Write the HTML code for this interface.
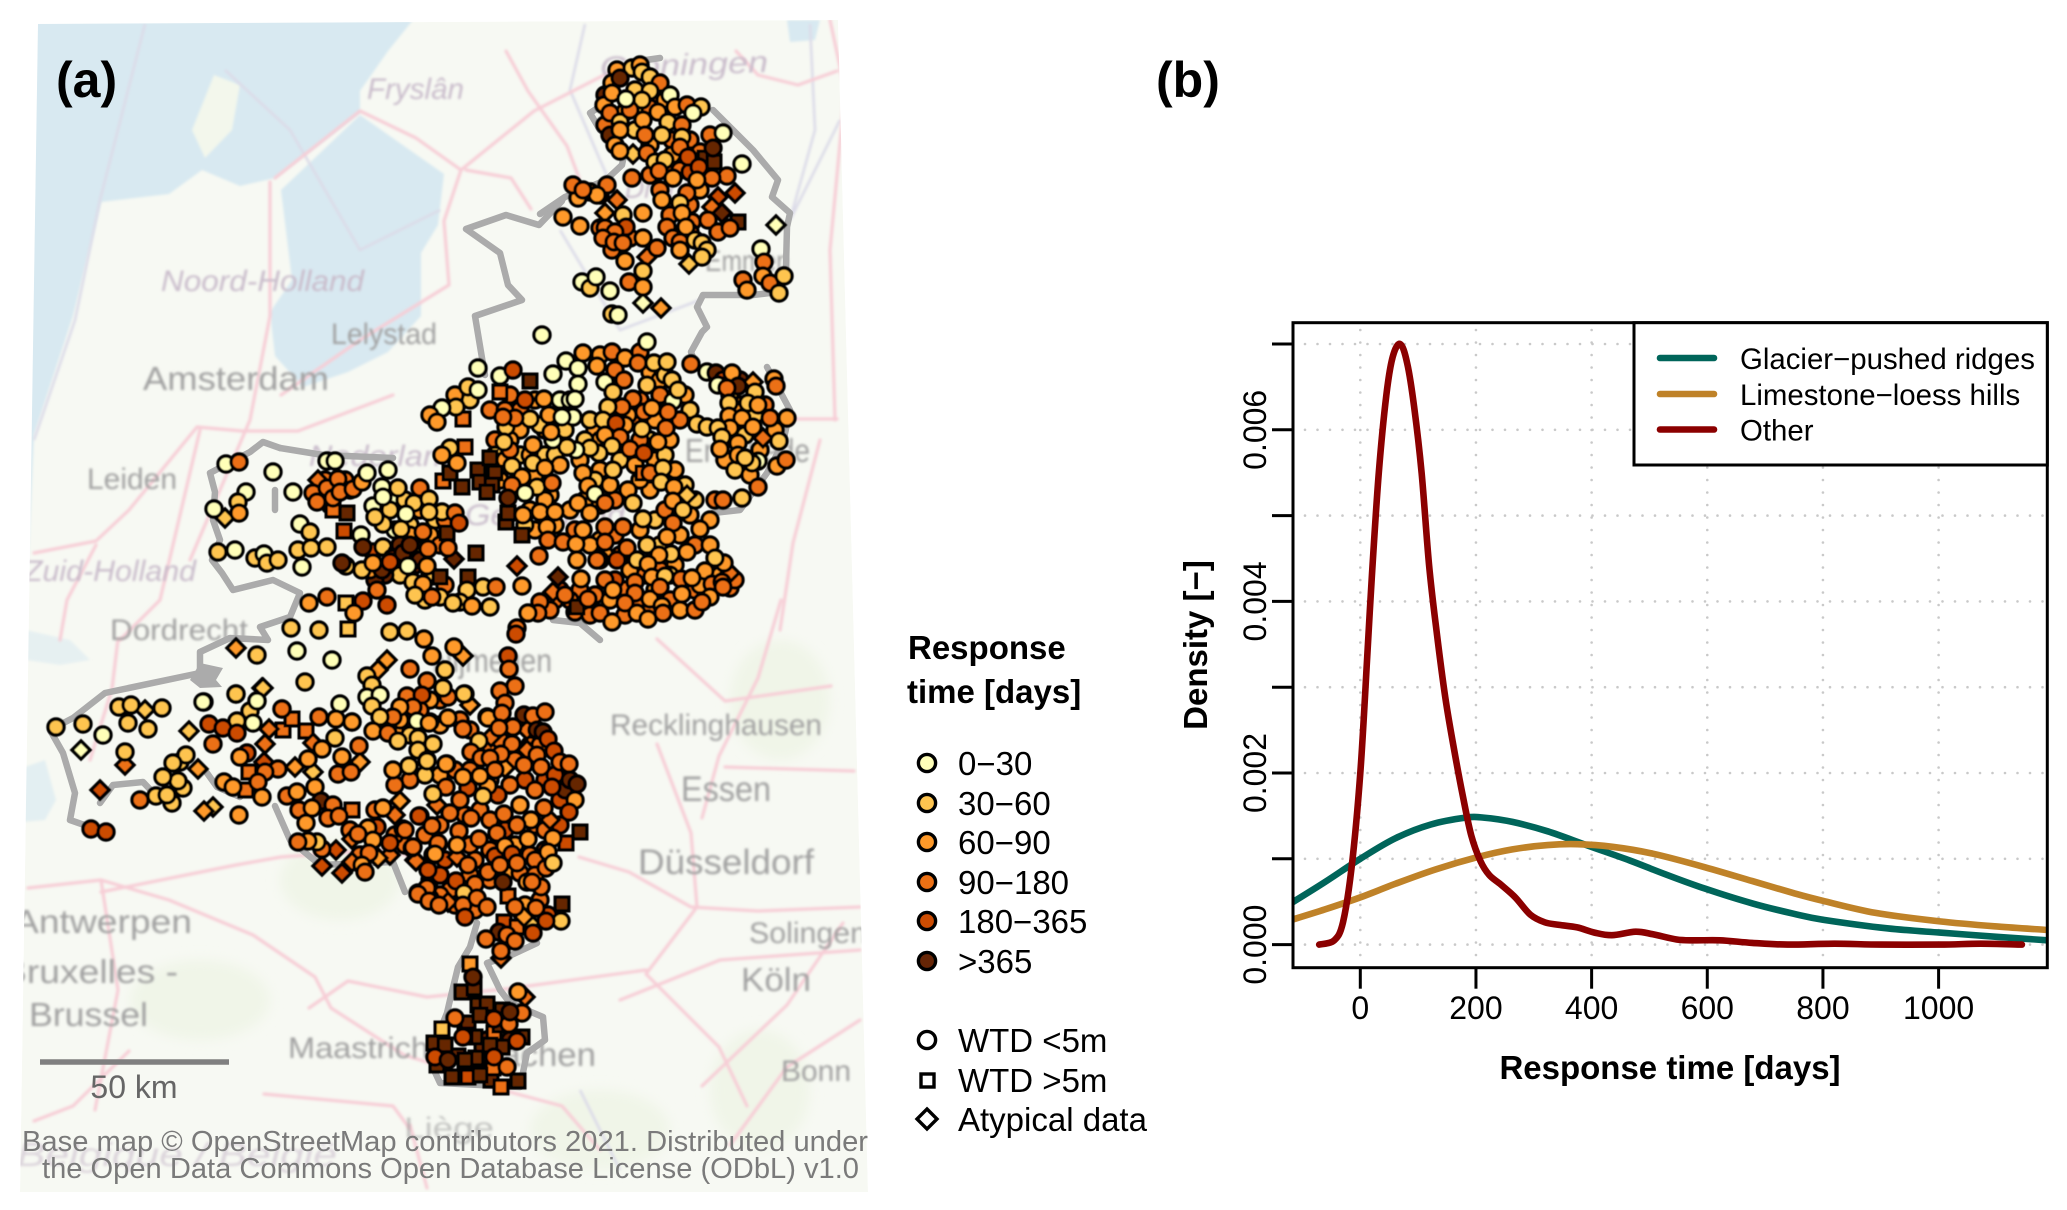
<!DOCTYPE html>
<html lang="en">
<head>
<meta charset="utf-8">
<title>Response time map and density plot</title>
<style>
html,body{margin:0;padding:0;background:#fff}
svg{display:block;font-family:"Liberation Sans",sans-serif}
.pl{fill:#c9bccb;font-style:italic}
.gl{fill:#a0a0a0}
.rd{fill:none;stroke:#f7cdd6;stroke-width:3.2;stroke-linejoin:round;stroke-linecap:round}
.bd{fill:none;stroke:#dcdbe8;stroke-width:2.6}
.tk{font-size:32px;fill:#000}
.lg{font-size:29.4px;fill:#000}
.ml{font-size:33px;fill:#000}
</style>
</head>
<body>
<svg id="fig" xmlns="http://www.w3.org/2000/svg" width="2067" height="1210" viewBox="0 0 2067 1210">
<defs>
<filter id="soft" x="-5%" y="-5%" width="110%" height="110%"><feGaussianBlur stdDeviation="1.2"/></filter>
<filter id="softer" x="-5%" y="-5%" width="110%" height="110%"><feGaussianBlur stdDeviation="0.45"/></filter>
<filter id="wide" x="-20%" y="-20%" width="140%" height="140%"><feGaussianBlur stdDeviation="6"/></filter>
<clipPath id="mapclip"><polygon points="38,24 838,20 868,1192 20,1192"/></clipPath>
</defs>
<rect width="2067" height="1210" fill="#fff"/>

<g clip-path="url(#mapclip)">
<polygon points="38,24 838,20 868,1192 20,1192" fill="#f7f9f3"/>
<g filter="url(#wide)" fill="#f0f5e8">
<ellipse cx="340" cy="880" rx="60" ry="40"/><ellipse cx="600" cy="1130" rx="70" ry="40"/><ellipse cx="760" cy="1090" rx="50" ry="60"/><ellipse cx="200" cy="1000" rx="70" ry="40"/><ellipse cx="780" cy="700" rx="50" ry="60"/>
</g>
<g fill="#d8e9f1" filter="url(#soft)">
<polygon points="30,20 413,20 388,51 360,91 360,113 275,178 240,186 202,170 169,194 101,202 73,316 34,435 28,570 30,300"/>
<polygon points="281,190 360,115 444,174 438,225 421,253 421,316 388,352 348,372 303,387 275,356 270,312 292,280"/>
<polygon points="787,20 820,20 815,40 790,42"/>
<polygon points="26,630 70,640 90,660 60,665 26,660" fill-opacity="0.55"/>
<polygon points="22,768 45,760 56,800 45,820 22,822" fill-opacity="0.65"/>
</g>
<polygon points="214,75 240,85 232,130 205,158 192,130" fill="#f3f7ec" filter="url(#soft)"/>
<g filter="url(#soft)">
<polyline class="bd" points="145,24 100,200 75,320 34,440"/>
<polyline class="bd" points="225,70 290,130 360,250 440,210"/>
<polyline class="bd" points="585,24 570,90 600,160 640,250"/>
<polyline class="bd" points="810,24 815,130 790,220 840,120"/>
<polyline class="bd" points="560,230 620,330 700,300"/>
<polyline class="bd" points="580,1090 620,1170"/>
</g>
<g filter="url(#soft)">
<polyline class="rd" points="275,178 360,111 416,138 461,170 534,111 612,71"/>
<polyline class="rd" points="270,182 270,316 250,420 190,560"/>
<polyline class="rd" points="461,170 444,221 449,285 360,340 281,395"/>
<polyline class="rd" points="506,51 528,91 567,146 579,178"/>
<polyline class="rd" points="466,170 511,178 531,209"/>
<polyline class="rd" points="837,71 798,85 758,75 736,51"/>
<polyline class="rd" points="837,419 730,419"/>
<polyline class="rd" points="820,440 793,543 780,630"/>
<polyline class="rd" points="34,553 96,541 129,510 197,427 242,431 298,431 393,395"/>
<polyline class="rd" points="96,545 67,600 60,640"/>
<polyline class="rd" points="28,888 101,880 169,900 253,935 315,977 331,1008 404,1055 505,1086"/>
<polyline class="rd" points="118,639 112,689 90,760"/>
<polyline class="rd" points="101,892 236,865 281,857 393,849 472,888"/>
<polyline class="rd" points="579,857 629,872 691,907 758,911 860,907"/>
<polyline class="rd" points="657,744 691,833 697,907 646,974 719,1047 747,1106"/>
<polyline class="rd" points="702,1086 787,1005 843,923"/>
<polyline class="rd" points="309,1008 348,981 427,997 506,989 646,970"/>
<polyline class="rd" points="461,1079 562,1106 600,1150"/>
<polyline class="rd" points="781,600 758,678 719,756 702,818"/>
<polyline class="rd" points="657,639 725,701 831,686"/>
<polyline class="rd" points="725,767 854,771"/>
<polyline class="rd" points="410,1125 427,1188"/>
<polyline class="rd" points="264,1094 393,1106 410,1129"/>
<polyline class="rd" points="34,1121 73,1106 129,1051"/>
<polyline class="rd" points="730,1145 787,1067 860,1020"/>
<polyline class="rd" points="101,880 118,990 95,1110"/>
<polyline class="rd" points="830,20 845,90 830,250 835,420"/>
<polyline class="rd" points="200,430 160,600 120,640"/>
<polyline class="rd" points="620,1000 720,960 860,950"/>
</g>
<g filter="url(#soft)" font-size="30">
<text class="pl" x="600" y="75" textLength="168" lengthAdjust="spacingAndGlyphs" transform="rotate(-2 680 64)">Groningen</text>
<text class="pl" x="367" y="99" textLength="97" lengthAdjust="spacingAndGlyphs">Fryslân</text>
<text class="pl" x="161" y="291" textLength="203" lengthAdjust="spacingAndGlyphs">Noord-Holland</text>
<text class="gl" x="331" y="344" textLength="106" lengthAdjust="spacingAndGlyphs">Lelystad</text>
<text class="gl" x="143" y="390" textLength="186" lengthAdjust="spacingAndGlyphs" font-size="33">Amsterdam</text>
<text class="gl" x="87" y="489" textLength="90" lengthAdjust="spacingAndGlyphs">Leiden</text>
<text class="pl" x="24" y="581" textLength="172" lengthAdjust="spacingAndGlyphs">Zuid-Holland</text>
<text class="gl" x="110" y="640" textLength="138" lengthAdjust="spacingAndGlyphs">Dordrecht</text>
<text class="gl" x="610" y="735" textLength="212" lengthAdjust="spacingAndGlyphs">Recklinghausen</text>
<text class="gl" x="681" y="801" textLength="90" lengthAdjust="spacingAndGlyphs" font-size="35">Essen</text>
<text class="gl" x="638" y="874" textLength="176" lengthAdjust="spacingAndGlyphs" font-size="35">Düsseldorf</text>
<text class="gl" x="749" y="943" textLength="118" lengthAdjust="spacingAndGlyphs">Solingen</text>
<text class="gl" x="741" y="991" textLength="70" lengthAdjust="spacingAndGlyphs" font-size="33">Köln</text>
<text class="gl" x="781" y="1081" textLength="70" lengthAdjust="spacingAndGlyphs">Bonn</text>
<text class="gl" x="14" y="933" textLength="178" lengthAdjust="spacingAndGlyphs" font-size="33">Antwerpen</text>
<text class="gl" x="2" y="983" textLength="176" lengthAdjust="spacingAndGlyphs" font-size="33">Bruxelles -</text>
<text class="gl" x="29" y="1026" textLength="119" lengthAdjust="spacingAndGlyphs" font-size="33">Brussel</text>
<text class="gl" x="288" y="1058" textLength="150" lengthAdjust="spacingAndGlyphs">Maastricht</text>
<text class="gl" x="478" y="1066" textLength="118" lengthAdjust="spacingAndGlyphs" font-size="33">Aachen</text>
<text class="gl" x="432" y="672" textLength="120" lengthAdjust="spacingAndGlyphs" font-size="33">Nijmegen</text>
<text class="gl" x="685" y="462" textLength="125" lengthAdjust="spacingAndGlyphs" font-size="33">Enschede</text>
<text class="gl" x="705" y="271" textLength="85" lengthAdjust="spacingAndGlyphs">Emmen</text>
<text class="pl" x="309" y="466" textLength="150" lengthAdjust="spacingAndGlyphs">Nederland</text>
<text class="pl" x="465" y="525" textLength="160" lengthAdjust="spacingAndGlyphs">Gelderland</text>
<text class="pl" x="625" y="198" textLength="95" lengthAdjust="spacingAndGlyphs">Drenthe</text>
<text class="gl" x="404" y="1138" textLength="90" lengthAdjust="spacingAndGlyphs" fill-opacity="0.6">Liège</text>
<text class="pl" x="17" y="1166" textLength="320" lengthAdjust="spacingAndGlyphs" font-size="33" fill-opacity="0.6">Belgique / België</text>
</g>
<g fill="none" stroke="#ababab" stroke-width="6.5" stroke-linejoin="round" stroke-linecap="round">
<polyline points="540,214 565,197 606,180 622,165 625,150 600,130 590,113 610,100 620,70 632,62 660,58"/>
<polyline points="713,110 753,150 778,180 772,197 790,213 787,227 786,267 770,293 753,295 703,295 697,307 707,327 702,332 691,352 697,368"/>
<polyline points="562,201 539,225 506,215 466,229 500,253 508,285 522,300 475,316 483,364 485,375"/>
<polyline points="280,448 263,442 250,452 210,473 215,492 213,520 220,540 212,560 222,573 233,590 273,580 300,593 290,617 260,627 268,640 230,638 200,652 200,673 105,693 73,718 50,730 63,753 75,793 70,820 90,827"/>
<polyline points="100,803 113,785 143,782 160,800"/>
<polyline points="207,773 217,787 240,797"/>
<polyline points="275,806 290,840 320,865 393,862 405,892"/>
<polyline points="477,923 470,947 458,967 450,1000 447,1013 436,1040 434,1070 440,1083 520,1087 527,1053 545,1040 543,1017 510,1003 500,990 487,963 507,957 537,943"/>
<polyline points="767,367 790,410 783,443 767,473 740,510 713,513"/>
<polyline points="553,620 580,623 600,640"/>
<polyline points="280,448 323,455 393,458"/>
<polyline points="275,490 275,510"/>
<polygon points="200,663 223,668 216,680 222,687 200,688 190,680" fill="#ababab" stroke="none"/>
</g>
</g>

<g id="stations" filter="url(#softer)"></g>

<text x="56" y="97" font-size="50" font-weight="bold">(a)</text>
<line x1="40" x2="229" y1="1062" y2="1062" stroke="#808080" stroke-width="5.5"/>
<text x="134" y="1098" text-anchor="middle" font-size="32" fill="#666">50 km</text>
<text x="22" y="1151" font-size="29" fill="#7a7a7a" textLength="846" lengthAdjust="spacingAndGlyphs">Base map © OpenStreetMap contributors 2021. Distributed under</text>
<text x="42" y="1178" font-size="29" fill="#7a7a7a" textLength="817" lengthAdjust="spacingAndGlyphs">the Open Data Commons Open Database License (ODbL) v1.0</text>

<g>
<text x="908" y="659" font-size="33" font-weight="bold">Response</text>
<text x="907" y="703" font-size="33" font-weight="bold">time [days]</text>
<g stroke="#000" stroke-width="3.4">
<circle cx="927" cy="763" r="8.6" fill="#ffffb8"/>
<circle cx="927" cy="803" r="8.6" fill="#fec44f"/>
<circle cx="927" cy="842" r="8.6" fill="#fe9929"/>
<circle cx="927" cy="882" r="8.6" fill="#ec7014"/>
<circle cx="927" cy="921" r="8.6" fill="#cc4c02"/>
<circle cx="927" cy="961" r="8.6" fill="#662506"/>
<circle cx="927" cy="1040" r="8.6" fill="#fff"/>
<rect x="921" y="1074" width="13" height="13" fill="#fff"/>
<polygon points="927,1109 937,1119 927,1129 917,1119" fill="#fff"/>
</g>
<g class="ml">
<text x="958" y="775">0−30</text>
<text x="958" y="815">30−60</text>
<text x="958" y="854">60−90</text>
<text x="958" y="894">90−180</text>
<text x="958" y="933">180−365</text>
<text x="958" y="973">&gt;365</text>
<text x="958" y="1052">WTD &lt;5m</text>
<text x="958" y="1092">WTD &gt;5m</text>
<text x="958" y="1131">Atypical data</text>
</g>
</g>

<text x="1156" y="97" font-size="50" font-weight="bold">(b)</text>
<g id="plot"></g>

<script>
// ---- Map stations: [east, south, response class] in map-grid units ----
const stationsSquare = [[530,381,5],[500,392,3],[463,419,3],[465,447,3],[478,470,5],[490,458,5],[495,473,5],[480,482,5],[492,485,5],[487,492,5],[443,481,3],[462,487,5],[450,473,5],[506,522,5],[522,535,5],[508,513,5],[643,473,3],[577,607,5],[705,158,5],[714,162,5],[738,222,5],[347,513,5],[333,510,3],[344,531,4],[447,533,5],[476,553,5],[440,577,5],[468,577,5],[346,603,1],[348,629,1],[283,730,3],[292,719,3],[306,731,3],[249,772,3],[246,790,3],[352,810,3],[580,832,5],[566,843,4],[508,896,3],[504,922,4],[517,927,3],[562,904,5],[470,964,2],[462,992,5],[474,988,5],[478,1005,5],[487,1004,5],[468,1023,5],[507,1012,5],[442,1029,1],[494,1033,3],[522,1037,5],[502,1047,5],[482,1048,5],[434,1043,5],[458,1056,5],[476,1058,5],[452,1077,5],[468,1077,4],[491,1080,5],[518,1081,5],[501,1087,3],[475,1037,5],[493,1068,3],[437,1065,5],[502,1010,5],[480,1015,5],[465,1035,5],[490,1045,5],[465,1060,5],[480,1075,5],[500,1025,5],[445,1045,5]];
const stationsDiamond = [[633,154,1],[617,200,3],[718,197,4],[735,193,4],[712,207,3],[722,213,5],[776,225,0],[605,213,2],[647,257,3],[689,264,1],[643,303,0],[661,308,2],[753,382,2],[763,438,3],[730,573,3],[558,577,5],[553,592,3],[517,566,4],[687,495,1],[318,480,3],[454,559,5],[225,518,1],[378,670,2],[387,660,2],[463,656,2],[470,705,2],[236,648,2],[262,688,1],[81,750,0],[145,710,1],[125,765,3],[100,790,4],[198,769,2],[189,731,1],[263,688,1],[265,744,3],[269,729,3],[313,743,3],[360,762,2],[295,767,2],[313,772,1],[264,762,4],[213,807,1],[204,811,2],[400,801,2],[395,815,3],[352,839,3],[390,855,3],[378,858,2],[352,862,3],[342,873,4],[322,866,4],[336,850,4],[415,860,3],[527,730,3],[527,750,3],[491,737,3],[505,768,2],[437,805,3],[550,820,3],[416,861,3],[457,857,3],[448,902,3],[530,923,1],[524,917,2],[501,958,3],[525,997,3]];
const stationsCircleInfill = [[605,95,5],[604,105,2],[617,70,2],[632,68,1],[640,65,2],[655,95,3],[665,100,2],[635,108,1],[625,112,2],[650,108,3],[605,125,3],[610,135,5],[635,130,1],[650,145,2],[672,140,3],[690,140,3],[700,152,3],[672,155,2],[665,170,3],[680,170,3],[690,172,4],[705,170,4],[650,175,3],[700,190,2],[690,205,3],[670,215,3],[692,222,3],[600,195,3],[578,198,2],[612,250,3],[600,228,3],[630,238,3],[690,232,3],[660,190,3],
[600,355,2],[612,352,3],[625,358,2],[640,352,3],[650,372,2],[660,380,2],[665,375,1],[672,380,1],[655,410,3],[640,400,3],[635,420,3],[628,415,2],[655,420,2],[685,395,2],[690,410,1],[680,420,3],[670,440,2],[650,440,1],[640,440,3],[625,425,2],[610,430,3],[595,430,2],[590,420,1],[600,440,2],[585,440,1],[580,460,2],[600,470,2],[595,480,1],[620,460,1],[635,465,2],[655,460,2],[665,455,1],[675,470,2],[685,485,1],[695,500,1],[650,490,2],[640,480,2],[615,500,3],[600,505,2],[585,500,2],[570,510,2],[575,530,3],[600,540,2],[615,535,3],[640,530,2],[655,520,1],[665,510,3],[690,515,2],[680,535,2],[695,545,3],[710,545,2],[660,545,1],[620,555,3],[605,555,2],[590,545,2],[580,590,3],[595,595,3],[610,600,2],[625,590,3],[640,605,3],[655,590,2],[670,600,3],[680,610,2],[695,590,3],[715,580,3],[700,585,2],[730,588,3],[675,565,2],[660,570,3],[645,575,3],[630,570,2],[615,580,4],[570,600,3],[575,612,3],[555,600,3],[590,615,3],[625,615,3],[650,610,3],[695,610,3],[670,575,1],[720,575,2],[735,580,3],[600,560,3],[560,590,4],[550,610,3],
[470,400,1],[455,395,2],[490,410,3],[510,395,3],[520,410,3],[535,400,2],[545,430,2],[520,430,2],[510,440,2],[495,440,3],[495,455,1],[520,455,1],[530,455,2],[545,455,1],[505,460,2],[510,450,3],[500,480,2],[520,490,1],[535,475,2],[550,495,2],[530,510,2],[545,500,2],[555,525,2],[535,530,2],[525,525,1],[560,400,0],[565,430,1],[555,455,1],[560,465,2],[505,410,3],[540,425,1],[570,400,0],
[395,500,0],[405,500,1],[420,510,2],[435,520,1],[445,520,3],[410,525,1],[390,510,1],[395,530,0],[410,535,2],[430,535,2],[440,545,3],[415,548,1],[405,565,1],[395,570,5],[415,565,5],[420,560,5],[400,575,1],[385,575,5],[375,580,5],[370,570,2],[430,575,1],[445,585,3],[425,600,1],[350,490,4],[330,505,3],[325,480,3],[345,480,3],
[440,700,3],[430,700,2],[420,710,3],[405,720,3],[395,730,2],[410,735,1],[440,725,2],[460,720,3],[470,730,3],[490,745,3],[500,740,3],[515,760,3],[530,745,3],[540,745,3],[545,780,4],[555,775,4],[560,800,4],[565,790,5],[570,780,5],[525,780,4],[510,785,3],[490,780,3],[470,770,3],[455,770,3],[440,775,2],[425,775,1],[410,780,3],[395,785,3],[480,810,3],[465,815,3],[440,825,3],[425,835,3],[470,845,3],[490,820,3],[505,830,4],[520,805,2],[535,825,3],[545,830,3],[560,825,4],[530,855,3],[515,845,2],[490,850,3],[475,860,3],[445,860,4],[430,880,4],[440,875,4],[450,890,3],[470,875,3],[490,880,3],[510,870,2],[545,850,3],[535,860,3],[455,905,3],[475,910,3],[440,895,3],[405,845,3],[395,835,3],[375,810,3],[350,830,3],[360,855,3],[400,720,2],[540,900,3],[548,915,4],[525,905,2],[487,1040,5],[510,1040,5],
[740,405,2],[755,415,1],[765,405,3],[735,432,2],[745,435,1],[760,450,2],[725,460,2],[735,470,1],[750,475,2],[740,380,5],[775,430,2],[730,395,1]];
const stationsCircle = [[612,83,2],[620,78,5],[642,72,1],[650,77,1],[660,83,3],[612,93,2],[635,90,1],[650,91,1],[670,95,0],[642,100,1],[610,113,3],[620,122,1],[643,120,2],[658,112,2],[675,107,2],[687,105,3],[701,107,1],[693,113,0],[668,122,1],[682,125,3],[620,130,2],[645,135,3],[662,135,1],[682,137,1],[710,135,3],[723,133,0],[615,145,2],[620,151,2],[647,153,3],[655,162,1],[665,160,1],[659,171,3],[680,147,3],[688,157,4],[713,148,5],[699,167,4],[742,164,0],[727,176,3],[712,178,3],[697,180,2],[673,178,2],[632,178,3],[607,185,3],[573,185,3],[590,192,2],[597,195,2],[583,190,3],[662,200,2],[687,193,3],[680,203,1],[708,220,3],[718,232,3],[730,228,3],[563,217,2],[580,226,2],[623,215,1],[643,213,2],[682,213,2],[605,228,3],[626,227,4],[615,232,3],[603,238,3],[614,242,3],[623,243,3],[643,238,2],[667,227,3],[686,227,2],[673,238,3],[680,242,3],[680,250,2],[695,240,1],[702,243,1],[707,250,1],[702,257,1],[657,248,3],[625,261,2],[643,271,1],[582,282,0],[590,288,1],[596,277,0],[610,291,0],[629,282,3],[643,287,2],[612,314,1],[618,315,0],[761,249,0],[764,262,3],[763,276,2],[770,283,3],[784,276,1],[779,293,1],[743,280,3],[747,290,2],[630,110,3],[626,99,0],
[542,335,0],[647,342,0],[478,368,0],[500,376,0],[513,370,4],[468,387,1],[478,390,0],[456,407,1],[442,408,0],[430,415,2],[437,422,2],[450,448,1],[442,455,2],[457,463,2],[525,400,4],[544,399,2],[506,427,1],[530,419,1],[515,418,3],[503,417,3],[549,415,2],[553,374,0],[566,361,0],[578,368,0],[583,353,2],[597,366,2],[578,384,0],[575,399,0],[573,417,0],[562,417,0],[605,382,0],[615,370,3],[624,380,3],[638,363,3],[654,363,1],[667,362,1],[647,385,1],[633,399,3],[622,407,3],[608,407,1],[613,392,1],[644,412,3],[660,395,3],[673,401,0],[668,412,3],[652,408,2],[678,390,1],[603,420,1],[616,423,4],[642,429,1],[666,428,3],[620,437,3],[605,435,2],[658,442,2],[630,449,3],[644,453,4],[612,446,1],[599,453,1],[590,448,1],[576,450,0],[567,447,1],[553,440,0],[551,432,2],[533,445,2],[504,442,1],[512,466,1],[533,463,1],[545,468,2],[522,477,2],[537,487,1],[552,483,3],[512,485,3],[508,498,5],[525,493,0],[540,512,2],[523,515,2],[555,512,2],[547,527,2],[548,540,3],[563,542,3],[576,544,2],[539,556,3],[522,586,2],[577,560,2],[597,560,3],[617,560,4],[583,473,2],[588,486,2],[595,494,0],[578,503,2],[605,503,3],[610,485,2],[628,490,2],[633,503,1],[613,470,1],[650,473,3],[663,468,1],[661,482,1],[674,487,2],[673,501,2],[683,510,1],[710,520,2],[700,529,2],[673,523,3],[643,519,1],[623,527,3],[605,527,3],[590,513,2],[583,530,2],[605,542,3],[627,548,3],[667,537,2],[647,545,1],[687,552,2],[671,554,1],[659,555,2],[637,560,1],[648,564,2],[652,577,2],[665,576,1],[705,571,2],[681,579,3],[724,563,2],[715,558,1],[712,584,3],[722,582,3],[635,582,3],[605,580,3],[613,590,2],[581,579,2],[565,595,3],[588,599,3],[540,602,3],[538,613,3],[528,613,2],[600,613,3],[612,622,2],[635,593,3],[625,603,3],[650,599,2],[662,606,2],[682,594,2],[637,613,2],[648,619,2],[663,613,3],[710,597,2],[702,602,3],[723,587,3],[692,578,2],[660,587,3],[517,628,3],[691,364,3],[707,372,0],[716,373,5],[723,380,4],[732,373,2],[718,385,0],[738,386,5],[727,388,3],[755,392,1],[774,379,2],[776,386,3],[748,403,1],[758,405,2],[729,403,1],[729,416,2],[742,418,2],[770,418,3],[787,418,2],[753,427,2],[730,428,2],[697,424,1],[707,427,1],[718,428,1],[722,437,1],[779,441,1],[738,443,2],[720,449,2],[738,455,2],[758,461,0],[752,463,1],[777,466,2],[786,460,3],[745,458,1],[758,487,3],[715,500,3],[723,500,3],[742,498,1],
[226,464,0],[239,462,3],[273,472,0],[327,461,0],[335,461,0],[293,492,0],[246,492,0],[238,502,1],[239,513,2],[214,509,0],[300,524,0],[310,532,1],[218,552,1],[235,550,0],[255,558,1],[264,554,0],[267,563,1],[278,560,1],[302,567,0],[298,550,1],[311,548,1],[327,547,1],[313,493,3],[327,488,3],[338,479,3],[333,498,3],[317,502,3],[340,492,3],[353,489,3],[362,482,2],[367,473,0],[388,470,0],[361,535,0],[373,506,0],[382,487,0],[398,488,1],[383,497,0],[420,488,3],[414,503,1],[429,499,1],[442,512,1],[455,513,3],[459,523,4],[429,512,1],[406,514,0],[383,524,1],[375,517,1],[401,529,1],[423,532,3],[448,548,3],[428,549,3],[373,552,4],[363,547,5],[383,547,1],[397,552,5],[400,545,5],[392,558,5],[403,553,5],[410,545,5],[408,566,0],[427,566,2],[382,570,5],[362,570,1],[346,566,1],[342,563,5],[373,563,2],[390,562,4],[413,582,1],[423,584,2],[415,595,1],[440,597,1],[432,597,3],[467,590,1],[460,602,1],[453,603,1],[472,606,2],[490,607,1],[483,587,1],[496,587,3],[377,590,3],[327,597,3],[309,603,2],[363,601,4],[387,605,4],[354,613,2],[291,628,1],[319,630,1],[390,632,1],[407,631,1],[424,639,2],[432,656,2],[454,647,2],[257,655,1],[297,651,0],[332,660,0],[305,682,1],[236,694,1],[204,702,0],[257,701,0],[250,711,1],[282,709,3],[340,704,0],
[367,676,1],[410,669,3],[445,670,1],[427,681,3],[372,685,1],[407,696,3],[422,695,4],[448,697,3],[465,694,1],[443,688,1],[367,697,0],[380,695,0],[372,706,1],[413,707,3],[400,707,2],[448,718,2],[430,722,2],[393,717,3],[380,717,1],[352,722,2],[336,719,2],[319,717,3],[487,717,2],
[56,727,1],[83,724,1],[103,735,0],[119,707,1],[131,705,1],[162,708,1],[128,723,1],[148,729,1],[125,752,1],[91,829,4],[106,832,4],[140,800,3],[156,796,1],[172,803,1],[167,795,1],[183,788,1],[178,781,1],[163,777,1],[180,762,1],[186,755,1],[173,763,1],[203,702,0],[236,694,1],[257,701,0],[253,723,0],[237,721,1],[209,724,4],[223,728,4],[237,733,4],[213,744,3],[247,753,4],[240,757,2],[282,709,3],[352,722,2],[373,731,2],[388,733,3],[398,741,1],[418,738,1],[417,721,0],[429,723,2],[433,744,1],[418,750,1],[427,760,1],[409,766,1],[393,770,2],[359,746,3],[335,738,1],[322,749,2],[342,757,2],[308,759,2],[338,774,3],[351,772,3],[278,769,3],[265,772,3],[258,782,3],[224,782,2],[233,787,2],[262,797,2],[239,815,2],[287,796,3],[297,792,2],[315,787,2],[321,801,5],[333,805,3],[299,810,3],[312,808,2],[328,818,3],[339,816,3],[306,823,2],[383,808,2],[420,816,4],[432,826,3],[403,829,3],[377,827,4],[368,828,2],[358,834,3],[373,840,2],[390,843,4],[369,853,3],[412,848,3],[362,865,2],[365,872,3],[322,849,3],[317,842,1],[308,841,2],[298,842,3],[428,870,4],[433,855,2],[438,845,3],[428,887,3],[418,893,3],[430,898,3],
[516,634,4],[508,656,4],[509,669,3],[515,686,3],[500,691,3],[505,703,3],[488,718,2],[502,713,3],[524,715,5],[533,716,3],[545,712,3],[513,727,3],[499,728,3],[537,730,5],[543,732,5],[548,739,4],[554,751,4],[537,755,3],[512,744,3],[501,754,3],[479,741,1],[463,729,3],[464,694,1],[427,761,1],[447,764,2],[471,752,3],[481,758,3],[490,758,3],[495,770,3],[524,765,3],[541,767,3],[560,762,3],[569,764,3],[577,784,5],[575,800,2],[569,812,4],[552,787,4],[535,790,3],[544,808,3],[531,820,2],[553,838,2],[548,852,2],[528,839,2],[517,825,3],[497,834,3],[504,814,3],[498,795,4],[488,786,2],[480,776,2],[468,788,4],[483,796,1],[463,777,2],[446,764,2],[446,787,3],[433,794,1],[460,800,3],[450,813,3],[419,816,4],[471,818,3],[459,831,3],[405,830,3],[479,839,3],[497,833,3],[457,845,2],[438,843,3],[413,847,3],[435,854,2],[468,865,3],[456,881,4],[475,884,3],[464,893,1],[427,888,3],[418,894,3],[429,901,3],[439,905,3],[463,905,3],[477,898,3],[487,907,3],[465,917,4],[495,856,4],[488,872,3],[500,865,3],[505,846,2],[512,854,4],[503,882,5],[520,873,3],[527,882,2],[535,875,3],[541,887,3],[546,868,3],[553,863,1],[532,882,3],[517,863,3],
[515,907,3],[536,908,3],[561,921,1],[546,921,4],[533,933,4],[499,932,5],[486,939,3],[507,935,3],[515,941,3],[501,951,3],[473,977,5],[518,992,2],[455,1018,3],[494,1019,4],[522,1013,3],[509,1024,3],[463,1037,4],[517,1041,4],[435,1057,4],[448,1060,5],[494,1057,4],[507,1067,3],[510,1012,5],[626,99,0]];

// ---- Density plot values ----
const xTickValues = [0, 200, 400, 600, 800, 1000];
const yTickValues = [0, 0.001, 0.002, 0.003, 0.004, 0.005, 0.006, 0.007];
const yLabelValues = ["0.000", "0.002", "0.004", "0.006"];
const seriesNames = ["Glacier−pushed ridges", "Limestone−loess hills", "Other"];
const glacierDays = [-118,-61,0,61,122,182,213,263,324,395,466,527,597,678,749,800,911,1002,1103,1188];
const glacierDensity = [0.00049,0.00073,0.001,0.00124,0.0014,0.00148,0.00148,0.00143,0.00132,0.00115,0.00098,0.00082,0.00065,0.00048,0.00036,0.00029,0.00019,0.00014,0.00009,0.00005];
const limestoneDays = [-118,-61,0,61,132,203,263,324,375,436,506,597,678,749,800,891,1002,1103,1188];
const limestoneDensity = [0.00029,0.00041,0.00055,0.00071,0.00088,0.00102,0.00111,0.00116,0.00117,0.00114,0.00106,0.0009,0.00074,0.0006,0.00051,0.00037,0.00027,0.00021,0.00017];
const otherDays = [-71,-45,-30,-15,0,12,20,32,45,56,69,81,93,106,119,132,147,162,177,192,208,223,243,268,294,319,344,375,405,435,476,506,547,577,622,678,739,820,900,1002,1073,1144];
const otherDensity = [0,0.00005,0.00026,0.0009,0.002,0.00335,0.0043,0.0055,0.0064,0.00685,0.007,0.00678,0.00627,0.0055,0.00442,0.00365,0.00288,0.00228,0.00174,0.00127,0.00097,0.00081,0.0007,0.00055,0.00035,0.00026,0.00023,0.0002,0.00014,0.00011,0.00015,0.00012,0.00006,0.00005,0.00005,0.00002,0,0.00001,0,0,0.00001,0];

// ---- Scales and styles ----
const NS = 'http://www.w3.org/2000/svg';
const gridToPx = 1, mapOriginX = 0, mapOriginY = 0;
const xMap = e => mapOriginX + e * gridToPx;
const yMap = s => mapOriginY + s * gridToPx;
const classColors = ['#ffffb8', '#fec44f', '#fe9929', '#ec7014', '#cc4c02', '#662506'];
const plotL = 1293, plotR = 2047.3, plotT = 322.7, plotB = 967.7;
const xAxis = v => 1360.3 + v * 0.5783;
const yAxis = v => 944.6 - v * 85800;

function mk(tag, attrs, parent) {
  const el = document.createElementNS(NS, tag);
  for (const k in attrs) el.setAttribute(k, attrs[k]);
  parent.appendChild(el);
  return el;
}

// ---- Draw stations ----
const stationLayer = document.getElementById('stations');
stationsCircleInfill.forEach(d => {
  const el = mk('circle', {cx: xMap(d[0]), cy: yMap(d[1]), r: 8, fill: classColors[d[2]], stroke: '#000', 'stroke-width': 3.4}, stationLayer);
  
  
});
stationsSquare.forEach(d => {
  const el = mk('rect', {x: xMap(d[0]) - 6.8, y: yMap(d[1]) - 6.8, width: 13.6, height: 13.6, fill: classColors[d[2]], stroke: '#000', 'stroke-width': 3.4}, stationLayer);
  
  
});
stationsDiamond.forEach(d => {
  const cx = xMap(d[0]), cy = yMap(d[1]);
  const el = mk('polygon', {points: [cx, cy - 9, cx + 9, cy, cx, cy + 9, cx - 9, cy].join(','), fill: classColors[d[2]], stroke: '#000', 'stroke-width': 3.4}, stationLayer);
  
  
});
stationsCircle.forEach(d => {
  const el = mk('circle', {cx: xMap(d[0]), cy: yMap(d[1]), r: 8, fill: classColors[d[2]], stroke: '#000', 'stroke-width': 3.4}, stationLayer);
  
  
});

// ---- Draw plot ----
const plot = document.getElementById('plot');
const gridStyle = {stroke: '#c9c9c9', 'stroke-width': 2.6, 'stroke-linecap': 'round', 'stroke-dasharray': '0 12.5'};
xTickValues.forEach(v => {
  const el = mk('line', Object.assign({x1: xAxis(v), x2: xAxis(v), y1: 330, y2: plotB - 2}, gridStyle), plot);
  
  
});
yTickValues.forEach(v => {
  const el = mk('line', Object.assign({x1: 1305, x2: plotR - 2, y1: yAxis(v), y2: yAxis(v)}, gridStyle), plot);
  
  
});

function smoothPath(xs, ys) {
  const p = xs.map((x, i) => [xAxis(x), yAxis(ys[i])]);
  let d = 'M' + p[0][0].toFixed(1) + ' ' + p[0][1].toFixed(1);
  for (let i = 0; i < p.length - 1; i++) {
    const a = p[Math.max(0, i - 1)], b = p[i], c = p[i + 1], e = p[Math.min(p.length - 1, i + 2)];
    const c1 = [b[0] + (c[0] - a[0]) / 6, b[1] + (c[1] - a[1]) / 6];
    const c2 = [c[0] - (e[0] - b[0]) / 6, c[1] - (e[1] - b[1]) / 6];
    d += 'C' + c1[0].toFixed(1) + ' ' + c1[1].toFixed(1) + ' ' + c2[0].toFixed(1) + ' ' + c2[1].toFixed(1) + ' ' + c[0].toFixed(1) + ' ' + c[1].toFixed(1);
  }
  return d;
}
const curveStyle = {fill: 'none', 'stroke-width': 6.6, 'stroke-linejoin': 'round', 'stroke-linecap': 'round', 'clip-path': 'url(#plotclip)'};
const defs = document.querySelector('defs');
const pc = mk('clipPath', {id: 'plotclip'}, defs);
mk('rect', {x: plotL, y: plotT, width: plotR - plotL, height: plotB - plotT}, pc);

const curveGlacier = mk('path', Object.assign({d: smoothPath(glacierDays, glacierDensity), stroke: '#00655a'}, curveStyle), plot);


const curveLimestone = mk('path', Object.assign({d: smoothPath(limestoneDays, limestoneDensity), stroke: '#bf8228'}, curveStyle), plot);


const curveOther = mk('path', Object.assign({d: smoothPath(otherDays, otherDensity), stroke: '#8b0000'}, curveStyle), plot);



const plotBox = mk('rect', {x: plotL, y: plotT, width: plotR - plotL, height: plotB - plotT, fill: 'none', stroke: '#000', 'stroke-width': 3}, plot);



xTickValues.forEach(v => {
  const t = mk('line', {x1: xAxis(v), x2: xAxis(v), y1: plotB, y2: plotB + 21, stroke: '#000', 'stroke-width': 3}, plot);
  
  
  const l = mk('text', {x: xAxis(v), y: 1019, 'text-anchor': 'middle', class: 'tk'}, plot);
  l.textContent = String(v);
  
  
});
yTickValues.forEach(v => {
  const t = mk('line', {x1: plotL - 21, x2: plotL, y1: yAxis(v), y2: yAxis(v), stroke: '#000', 'stroke-width': 3}, plot);
  
  
});
yLabelValues.forEach(s => {
  const y = yAxis(parseFloat(s));
  const l = mk('text', {x: 1266, y: y, 'text-anchor': 'middle', class: 'tk', transform: 'rotate(-90 1266 ' + y + ')'}, plot);
  l.textContent = s;
  
  
});

const xTitle = mk('text', {x: 1670, y: 1079, 'text-anchor': 'middle', 'font-size': 33, 'font-weight': 'bold'}, plot);
xTitle.textContent = 'Response time [days]';


const yTitle = mk('text', {x: 1207, y: 645, 'text-anchor': 'middle', 'font-size': 33, 'font-weight': 'bold', transform: 'rotate(-90 1207 645)'}, plot);
yTitle.textContent = 'Density [−]';



// ---- Plot legend ----
const legendBox = mk('rect', {x: 1634, y: plotT, width: plotR - 1634, height: 465 - plotT, fill: '#fff', stroke: '#000', 'stroke-width': 3}, plot);


const legendColors = ['#00655a', '#bf8228', '#8b0000'];
const legendRows = [358, 394, 429.5];
seriesNames.forEach((name, i) => {
  const ln = mk('line', {x1: 1660, x2: 1714, y1: legendRows[i], y2: legendRows[i], stroke: legendColors[i], 'stroke-width': 6.6, 'stroke-linecap': 'round'}, plot);
  
  
  const tx = mk('text', {x: 1740, y: legendRows[i] + 11, class: 'lg'}, plot);
  tx.textContent = name;
  
  
});
</script>
</svg>
</body>
</html>
